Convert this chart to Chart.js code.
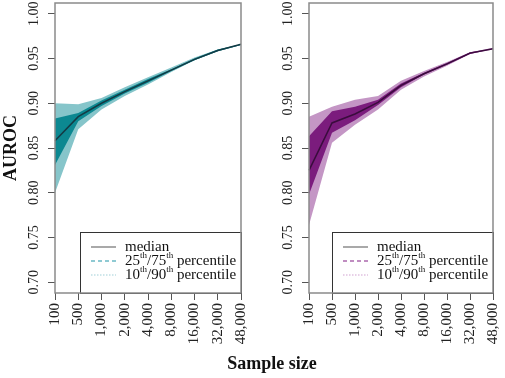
<!DOCTYPE html>
<html lang="en">
<head>
<meta charset="UTF-8">
<title>AUROC by sample size</title>
<script src="https://cdn.jsdelivr.net/npm/chart.js"></script>
<style>
  body { margin: 0; background: #fff; }
  .wrap { position: relative; width: 505px; height: 378px; overflow: hidden;
          font-family: "Liberation Serif", "DejaVu Serif", serif; }
  .panel { position: absolute; top: 0; height: 355px; }
  #leftBox { left: 0; width: 252px; }
  #rightBox { left: 252px; width: 253px; }
  .ytitle { position: absolute; left: -40px; top: 137px; width: 100px; line-height: 22px;
            text-align: center; font-weight: bold; font-size: 18px; color: #111;
            transform: rotate(-90deg); }
  .xtitle { position: absolute; left: 172px; top: 352px; width: 200px; line-height: 22px;
            text-align: center; font-weight: bold; font-size: 18px; color: #111; }
</style>
</head>
<body>
<div class="wrap">
  <div class="panel" id="leftBox"><canvas id="leftChart"></canvas></div>
  <div class="panel" id="rightBox"><canvas id="rightChart"></canvas></div>
  <div class="ytitle">AUROC</div>
  <div class="xtitle">Sample size</div>
</div>
<script>
// sample sizes (categories) and y ticks
const sizes = ['100', '500', '1,000', '2,000', '4,000', '8,000', '16,000', '32,000', '48,000'];
const yTicks = [0.70, 0.75, 0.80, 0.85, 0.90, 0.95, 1.00];

// left panel (teal)
const leftMedian = [0.858, 0.885, 0.900, 0.913, 0.925, 0.937, 0.949, 0.959, 0.966];
const leftP75    = [0.883, 0.889, 0.903, 0.915, 0.927, 0.938, 0.950, 0.960, 0.966];
const leftP25    = [0.831, 0.880, 0.897, 0.911, 0.923, 0.936, 0.948, 0.958, 0.965];
const leftP90    = [0.900, 0.899, 0.906, 0.918, 0.929, 0.940, 0.951, 0.960, 0.966];
const leftP10    = [0.800, 0.871, 0.893, 0.908, 0.921, 0.935, 0.948, 0.958, 0.965];

// right panel (purple)
const rightMedian = [0.825, 0.878, 0.888, 0.901, 0.920, 0.933, 0.944, 0.956, 0.961];
const rightP75    = [0.863, 0.891, 0.896, 0.904, 0.922, 0.934, 0.945, 0.957, 0.961];
const rightP25    = [0.798, 0.867, 0.881, 0.898, 0.918, 0.932, 0.943, 0.955, 0.961];
const rightP90    = [0.885, 0.896, 0.904, 0.908, 0.925, 0.936, 0.946, 0.957, 0.962];
const rightP10    = [0.764, 0.856, 0.876, 0.893, 0.915, 0.930, 0.942, 0.955, 0.960];

const FONT = '"Liberation Serif", "DejaVu Serif", serif';

// draws text with superscript parts, e.g. [['25'], ['th', true], ...]
function drawRich(ctx, parts, x, y) {
  parts.forEach(p => {
    if (p[1]) {
      ctx.font = '9px ' + FONT;
      ctx.fillText(p[0], x, y - 5);
    } else {
      ctx.font = '15px ' + FONT;
      ctx.fillText(p[0], x, y);
    }
    x += ctx.measureText(p[0]).width;
  });
}

const panelDecor = {
  id: 'panelDecor',
  afterDraw(chart) {
    const ctx = chart.ctx;
    const a = chart.chartArea;
    const cfg = chart.options.plugins.panelDecor;
    const yScale = chart.scales.y;

    // y tick labels, rotated like the original
    ctx.save();
    ctx.fillStyle = '#222';
    ctx.font = '14px ' + FONT;
    ctx.textAlign = 'center';
    ctx.textBaseline = 'middle';
    yTicks.forEach(v => {
      const py = yScale.getPixelForValue(v);
      ctx.save();
      ctx.translate(a.left - 21, py);
      ctx.rotate(-Math.PI / 2);
      ctx.fillText(v.toFixed(2), 0, 0);
      ctx.restore();
    });
    ctx.restore();

    // legend
    const lx = a.right - 161, ly = a.bottom - 61;
    ctx.save();
    ctx.fillStyle = '#fff';
    ctx.fillRect(lx, ly, a.right - lx, a.bottom - ly);
    ctx.strokeStyle = '#333';
    ctx.lineWidth = 1;
    ctx.strokeRect(lx + 0.5, ly + 0.5, a.right - lx, a.bottom - ly);
    const rows = [
      { y: a.bottom - 46, color: '#a9a9a9', dash: [], parts: [['median']] },
      { y: a.bottom - 32, color: cfg.dashColor, dash: [4, 3],
        parts: [['25'], ['th', true], ['/75'], ['th', true], [' percentile']] },
      { y: a.bottom - 18, color: cfg.dotColor, dash: [1.5, 1.5],
        parts: [['10'], ['th', true], ['/90'], ['th', true], [' percentile']] }
    ];
    rows.forEach(r => {
      ctx.strokeStyle = r.color;
      ctx.lineWidth = 2;
      ctx.setLineDash(r.dash);
      ctx.beginPath();
      ctx.moveTo(lx + 11, r.y);
      ctx.lineTo(lx + 36, r.y);
      ctx.stroke();
      ctx.setLineDash([]);
      ctx.fillStyle = '#111';
      ctx.textBaseline = 'middle';
      ctx.textAlign = 'left';
      drawRich(ctx, r.parts, lx + 45, r.y);
    });
    ctx.restore();

    // plot frame
    ctx.save();
    ctx.strokeStyle = '#8a8a8a';
    ctx.lineWidth = 1.5;
    ctx.strokeRect(a.left, a.top, a.right - a.left, a.bottom - a.top);
    ctx.restore();
  }
};

function makePanel(id, d, colors, axisW, rightPad) {
  const band = (data, fill, color) => ({
    data: data, fill: fill, backgroundColor: color, borderWidth: 0,
    pointRadius: 0, tension: 0
  });
  // Chart.js paints the first dataset on top, so the median comes first
  return new Chart(document.getElementById(id), {
    type: 'line',
    data: {
      labels: sizes,
      datasets: [
        { data: d.median, borderColor: colors.line, borderWidth: 1.5, pointRadius: 0,
          fill: false, tension: 0 },
        band(d.p75, '+1', colors.dark),
        band(d.p25, false, colors.dark),
        band(d.p90, '+1', colors.light),
        band(d.p10, false, colors.light)
      ]
    },
    options: {
      responsive: true,
      maintainAspectRatio: false,
      animation: false,
      layout: { padding: { top: 3, right: rightPad, left: 0, bottom: 0 } },
      plugins: {
        legend: { display: false },
        tooltip: { enabled: false },
        panelDecor: { dashColor: colors.dash, dotColor: colors.dot }
      },
      scales: {
        x: {
          offset: false,
          grid: { drawOnChartArea: false, drawTicks: true, tickLength: 7, color: '#555' },
          border: { display: false },
          ticks: { autoSkip: false, minRotation: 90, maxRotation: 90, padding: 3,
                   color: '#222', font: { family: FONT, size: 15 } },
          afterFit(s) { s.height = 62; s.paddingLeft = 0; s.paddingRight = 0; }
        },
        y: {
          min: 0.688,
          max: 1.012,
          grid: { drawOnChartArea: false, drawTicks: true, tickLength: 7, color: '#555' },
          border: { display: false },
          ticks: { display: false },
          afterBuildTicks(s) { s.ticks = yTicks.map(v => ({ value: v })); },
          afterFit(s) { s.width = axisW; }
        }
      }
    },
    plugins: [panelDecor]
  });
}

makePanel('leftChart',
  { median: leftMedian, p75: leftP75, p25: leftP25, p90: leftP90, p10: leftP10 },
  { light: '#86c5ca', dark: '#0c8891', line: '#143a44', dash: '#8fcad3', dot: '#cfe7eb' },
  55, 11);

makePanel('rightChart',
  { median: rightMedian, p75: rightP75, p25: rightP25, p90: rightP90, p10: rightP10 },
  { light: '#c496c5', dark: '#7b1c7d', line: '#3a0c3d', dash: '#c08dc1', dot: '#e8d0e8' },
  57, 12);
</script>
</body>
</html>
